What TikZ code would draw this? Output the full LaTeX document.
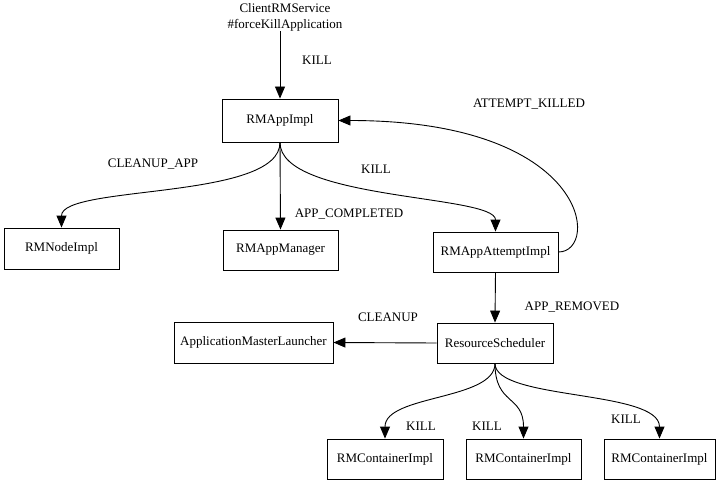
\documentclass[tikz,border=0pt]{standalone}
\usepackage{fontspec}
\setmainfont{Liberation Serif}
\usetikzlibrary{arrows.meta}
\begin{document}
\begin{tikzpicture}[x=1pt,y=-1pt,
  every node/.style={font=\fontsize{13}{16}\selectfont},
  box/.style={draw,line width=0.9pt,inner sep=0pt,minimum height=40pt},
  lbl/.style={inner sep=0pt},
  arr/.style={line width=0.9pt,-{Triangle[length=12pt,width=10pt]}}]
\useasboundingbox (0,0) rectangle (726,484);
\node[lbl,align=center] (client) at (285,17) {ClientRMService\\\#forceKillApplication};
\node[box,minimum width=116pt,minimum height=43pt] (app) at (280,120.5) {RMAppImpl};
\node[box,minimum width=115pt,minimum height=41pt] (nodeimpl) at (61.5,248.5) {RMNodeImpl};
\node[box,minimum width=115pt] (mgr) at (280.5,250) {RMAppManager};
\node[box,minimum width=125pt] (att) at (495.5,252) {RMAppAttemptImpl};
\node[box,minimum width=116pt] (rs) at (495,343) {ResourceScheduler};
\node[box,minimum width=159pt,minimum height=41pt] (aml) at (253.5,342.5) {ApplicationMasterLauncher};
\node[box,minimum width=116pt] (c1) at (385,459) {RMContainerImpl};
\node[box,minimum width=115pt] (c2) at (523.5,459) {RMContainerImpl};
\node[box,minimum width=111pt] (c3) at (659.5,459) {RMContainerImpl};

\node[lbl] (l1) at (317,60) {KILL};
\node[lbl] (l2) at (153,164) {CLEANUP\_APP};
\node[lbl] (l3) at (376,169) {KILL};
\node[lbl] (l4) at (349,214) {APP\_COMPLETED};
\node[lbl] (l5) at (529,104) {ATTEMPT\_KILLED};
\node[lbl] (l6) at (572,307) {APP\_REMOVED};
\node[lbl] (l7) at (388,317) {CLEANUP};
\node[lbl] (l8) at (421,426) {KILL};
\node[lbl] (l9) at (487,426) {KILL};
\node[lbl] (l10) at (626,419) {KILL};

\draw[arr] (app.north |- client.south) -- (app.north);
\draw[arr] (app.south) .. controls +(0,58) and +(0,-43) .. (nodeimpl.north);
\draw[arr] (app.south) -- (mgr.north);
\draw[arr] (app.south) .. controls +(0,58) and +(0,-37) .. (att.north);
\draw[arr] (att.east) .. controls +(42,0) and +(252,0) .. (app.east);
\draw[arr] (att.south) -- (rs.north);
\draw[arr] (rs.west) -- (aml.east);
\draw[arr] (rs.south) .. controls +(0,37) and +(0,-44) .. (c1.north);
\draw[arr] (rs.south) .. controls +(0,42) and +(0,-44) .. (c2.north);
\draw[arr] (rs.south) .. controls +(0,37) and +(0,-49) .. (c3.north);
\end{tikzpicture}
\end{document}
